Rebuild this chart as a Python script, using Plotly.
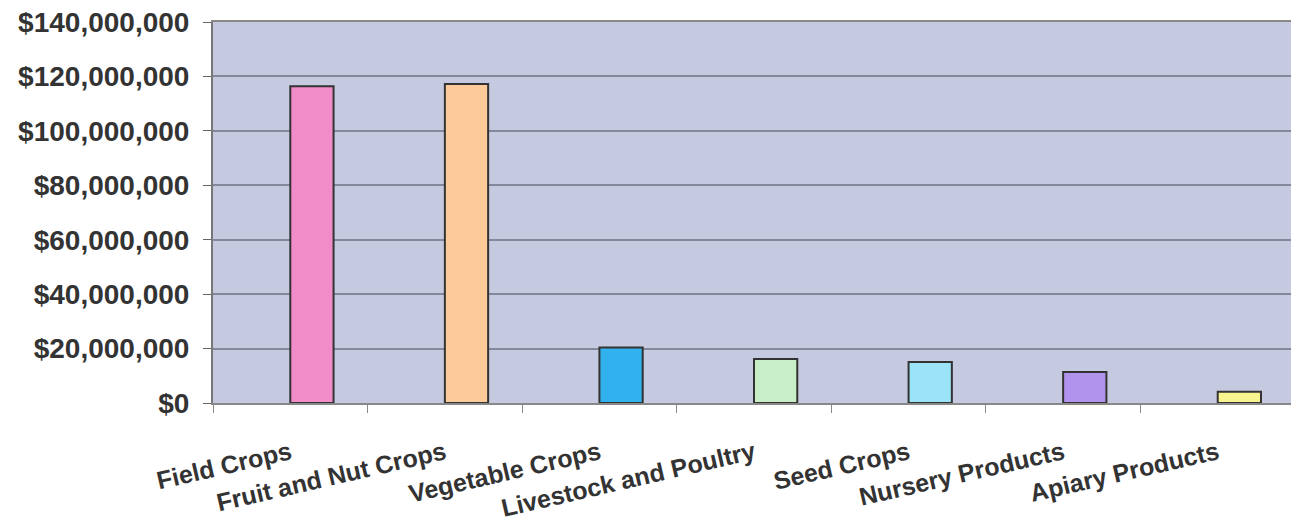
import plotly.graph_objects as go

categories = ["Field Crops", "Fruit and Nut Crops", "Vegetable Crops",
              "Livestock and Poultry", "Seed Crops", "Nursery Products",
              "Apiary Products"]
values = [116400000, 117200000, 20400000, 16200000, 15100000, 11400000, 4100000]
colors = ["#F28CC8", "#FDCB9A", "#31B2EE", "#C8EEC8", "#9BE4F7", "#B193EE", "#F8F590"]
y_ticks = [0, 20000000, 40000000, 60000000, 80000000, 100000000, 120000000, 140000000]
y_ticktext = ["${:,}".format(v) for v in y_ticks]

fig = go.Figure(go.Bar(
    x=categories, y=values,
    marker=dict(color=colors, line=dict(color="#333333", width=2)),
    width=0.28, offset=0,
))

fig.update_layout(
    width=1291, height=518,
    margin=dict(l=205, r=4, t=14, b=123, autoexpand=False),
    paper_bgcolor="white",
    plot_bgcolor="#C6CAE0",
    showlegend=False,
    font=dict(family="Liberation Sans, Arial, sans-serif", color="#333333"),
)
fig.update_xaxes(
    automargin=False,
    tickangle=-13,
    tickson="boundaries",
    ticks="outside", ticklen=8, tickcolor="#888888",
    ticklabelstandoff=24,
    ticklabeloverflow="allow",
    showline=True, linecolor="#888888", linewidth=2, mirror=True,
    tickfont=dict(size=25, family="Liberation Sans, Arial, sans-serif", weight="bold"),
    range=[-0.5, 6.5],
)
fig.update_yaxes(
    automargin=False,
    range=[0, 140000000],
    tickvals=y_ticks, ticktext=y_ticktext,
    ticks="outside", ticklen=8, tickcolor="#666666",
    ticklabelstandoff=8,
    ticklabeloverflow="allow",
    showline=True, linecolor="#777777", linewidth=2, mirror=True,
    gridcolor="#85879A", gridwidth=1.5,
    zeroline=False,
    tickfont=dict(size=28, family="Liberation Sans, Arial, sans-serif", weight="bold"),
)

fig.write_html("out.html")
